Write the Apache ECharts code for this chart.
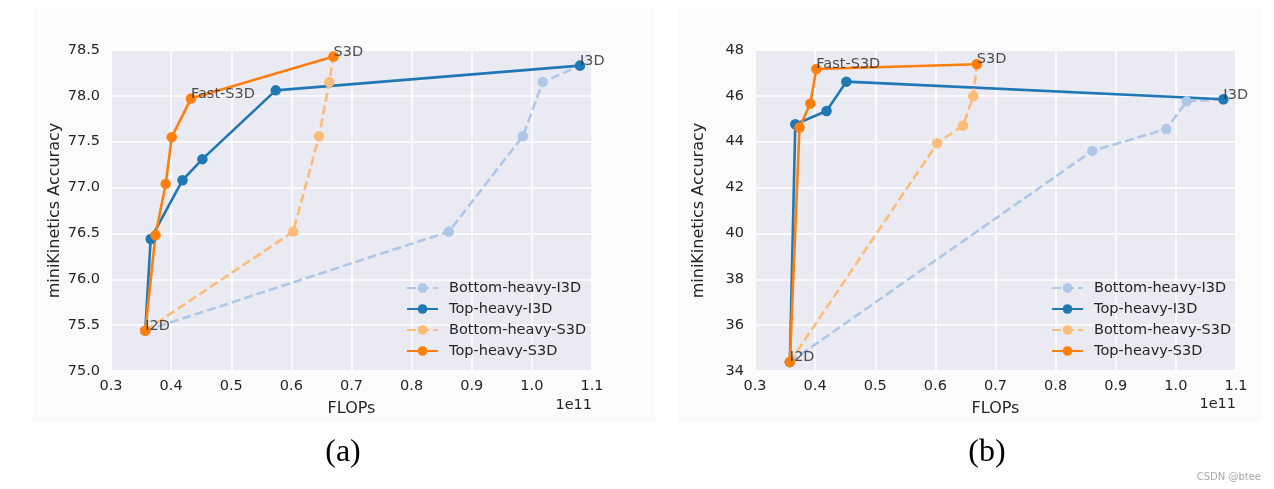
<!DOCTYPE html>
<html><head><meta charset="utf-8">
<script src="https://cdn.jsdelivr.net/npm/echarts@6/dist/echarts.min.js"></script>
<style>html,body{margin:0;padding:0;background:#fff}#c{width:1274px;height:489px}</style>
</head><body><div id="c"></div>
<script>
// ---- Data: panel (a) ----
const aBotI3D = [[0.357,75.44],[0.862,76.52],[0.985,77.56],[1.018,78.15],[1.080,78.33]];
const aTopI3D = [[0.357,75.44],[0.366,76.44],[0.419,77.08],[0.452,77.31],[0.574,78.06],[1.080,78.33]];
const aBotS3D = [[0.357,75.44],[0.603,76.52],[0.646,77.56],[0.663,78.15],[0.670,78.43]];
const aTopS3D = [[0.357,75.44],[0.374,76.48],[0.391,77.04],[0.401,77.55],[0.433,77.97],[0.670,78.43]];
// ---- Data: panel (b) ----
const bBotI3D = [[0.358,34.39],[0.861,43.60],[0.984,44.55],[1.018,45.76],[1.079,45.85]];
const bTopI3D = [[0.358,34.39],[0.367,44.76],[0.419,45.34],[0.452,46.62],[1.079,45.85]];
const bBotS3D = [[0.358,34.39],[0.603,43.93],[0.646,44.71],[0.663,45.98],[0.669,47.38]];
const bTopS3D = [[0.358,34.39],[0.374,44.62],[0.392,45.67],[0.402,47.17],[0.669,47.38]];
// ---- Annotations ----
const aNotes = [['I2D', aTopS3D[0]], ['Fast-S3D', aTopS3D[4]], ['S3D', aTopS3D[5]], ['I3D', aTopI3D[5]]];
const bNotes = [['I2D', bTopS3D[0]], ['Fast-S3D', bTopS3D[3]], ['S3D', bTopS3D[4]], ['I3D', bTopI3D[4]]];
const seriesNames = ['Bottom-heavy-I3D','Top-heavy-I3D','Bottom-heavy-S3D','Top-heavy-S3D'];
const seriesColors = ['#aec7e8','#1f77b4','#ffbb78','#ff7f0e'];
const seriesDashed = [true,false,true,false];
const xTicks = {min:0.3, max:1.1, interval:0.1};
const aYTicks = {min:75, max:78.5, interval:0.5};
const bYTicks = {min:34, max:48, interval:2};
const captions = ['(a)','(b)'];

const TXT = '#262626';
const FONT = 'DejaVu Sans';
const FS = 14.5;

function lineSeries(i, data, gi) {
  return {
    type:'line', name:seriesNames[i], data:data, xAxisIndex:gi, yAxisIndex:gi,
    symbol:'circle', symbolSize:10.5, showSymbol:true, animation:false,
    lineStyle:{color:seriesColors[i], width:2.6, type: seriesDashed[i] ? [9,4] : 'solid'},
    itemStyle:{color:seriesColors[i]},
    emphasis:{disabled:true}
  };
}
function noteSeries(notes, gi) {
  return {
    type:'scatter', xAxisIndex:gi, yAxisIndex:gi, symbolSize:0, animation:false, z:10,
    data: notes.map(n => ({name:n[0], value:n[1]})),
    itemStyle:{color:'transparent'},
    label:{show:true, formatter:'{b}', position:'right', distance:0, align:'left', verticalAlign:'bottom',
      offset:[0,3], fontSize:FS, color:TXT, fontFamily:FONT},
    emphasis:{disabled:true}, silent:true
  };
}
function xAxis(gi) {
  return {type:'value', gridIndex:gi, min:xTicks.min, max:xTicks.max, interval:xTicks.interval,
    axisLine:{show:false}, axisTick:{show:false},
    splitLine:{show:true, lineStyle:{color:'#ffffff', width:1.5}},
    axisLabel:{fontSize:FS, color:TXT, fontFamily:FONT, margin:8, formatter:v => v.toFixed(1)},
    name:'FLOPs', nameLocation:'middle', nameGap:30,
    nameTextStyle:{fontSize:16, color:TXT, fontFamily:FONT}};
}
function yAxis(gi, t, dec) {
  return {type:'value', gridIndex:gi, min:t.min, max:t.max, interval:t.interval,
    axisLine:{show:false}, axisTick:{show:false},
    splitLine:{show:true, lineStyle:{color:'#ffffff', width:1.5}},
    axisLabel:{fontSize:FS, color:TXT, fontFamily:FONT, margin:11, formatter:v => v.toFixed(dec)},
    name:'miniKinetics Accuracy', nameLocation:'middle', nameGap:48,
    nameTextStyle:{fontSize:16, color:TXT, fontFamily:FONT}};
}
function legend(left) {
  return {data:seriesNames, orient:'vertical', left:left, top:275, itemWidth:31, itemHeight:12, itemGap:5,
    selectedMode:false,
    textStyle:{fontSize:FS, color:TXT, fontFamily:FONT, lineHeight:16, padding:[0,0,0,6]}};
}

const chart = echarts.init(document.getElementById('c'), null, {renderer:'canvas'});
chart.setOption({
  backgroundColor:'#ffffff',
  animation:false,
  grid:[
    {left:111, top:50, width:481, height:321, show:true, backgroundColor:'#eaeaf2', borderWidth:0},
    {left:755, top:50, width:481, height:321, show:true, backgroundColor:'#eaeaf2', borderWidth:0}
  ],
  xAxis:[xAxis(0), xAxis(1)],
  yAxis:[yAxis(0, aYTicks, 1), yAxis(1, bYTicks, 0)],
  legend:[legend(401), legend(1046)],
  series:[
    lineSeries(0, aBotI3D, 0), lineSeries(1, aTopI3D, 0), lineSeries(2, aBotS3D, 0), lineSeries(3, aTopS3D, 0),
    lineSeries(0, bBotI3D, 1), lineSeries(1, bTopI3D, 1), lineSeries(2, bBotS3D, 1), lineSeries(3, bTopS3D, 1),
    noteSeries(aNotes, 0), noteSeries(bNotes, 1)
  ],
  graphic:[
    {type:'rect', z:-10, shape:{x:33, y:8, width:622, height:414}, style:{fill:'#fbfbfb'}, silent:true},
    {type:'rect', z:-10, shape:{x:678, y:8, width:584, height:414}, style:{fill:'#fbfbfb'}, silent:true},
    {type:'text', style:{text:'1e11', x:592, y:405, textAlign:'right', textVerticalAlign:'middle', font:'14.5px "DejaVu Sans"', fill:TXT}},
    {type:'text', style:{text:'1e11', x:1236, y:404, textAlign:'right', textVerticalAlign:'middle', font:'14.5px "DejaVu Sans"', fill:TXT}},
    {type:'text', style:{text:captions[0], x:343, y:453, textAlign:'center', textVerticalAlign:'middle', font:'32px "Liberation Serif"', fill:'#000'}},
    {type:'text', style:{text:captions[1], x:987, y:453, textAlign:'center', textVerticalAlign:'middle', font:'32px "Liberation Serif"', fill:'#000'}},
    {type:'text', style:{text:'CSDN @btee', x:1261, y:477, textAlign:'right', textVerticalAlign:'middle', font:'10px "DejaVu Sans"', fill:'#aaaaaa'}}
  ]
});
</script></body></html>
